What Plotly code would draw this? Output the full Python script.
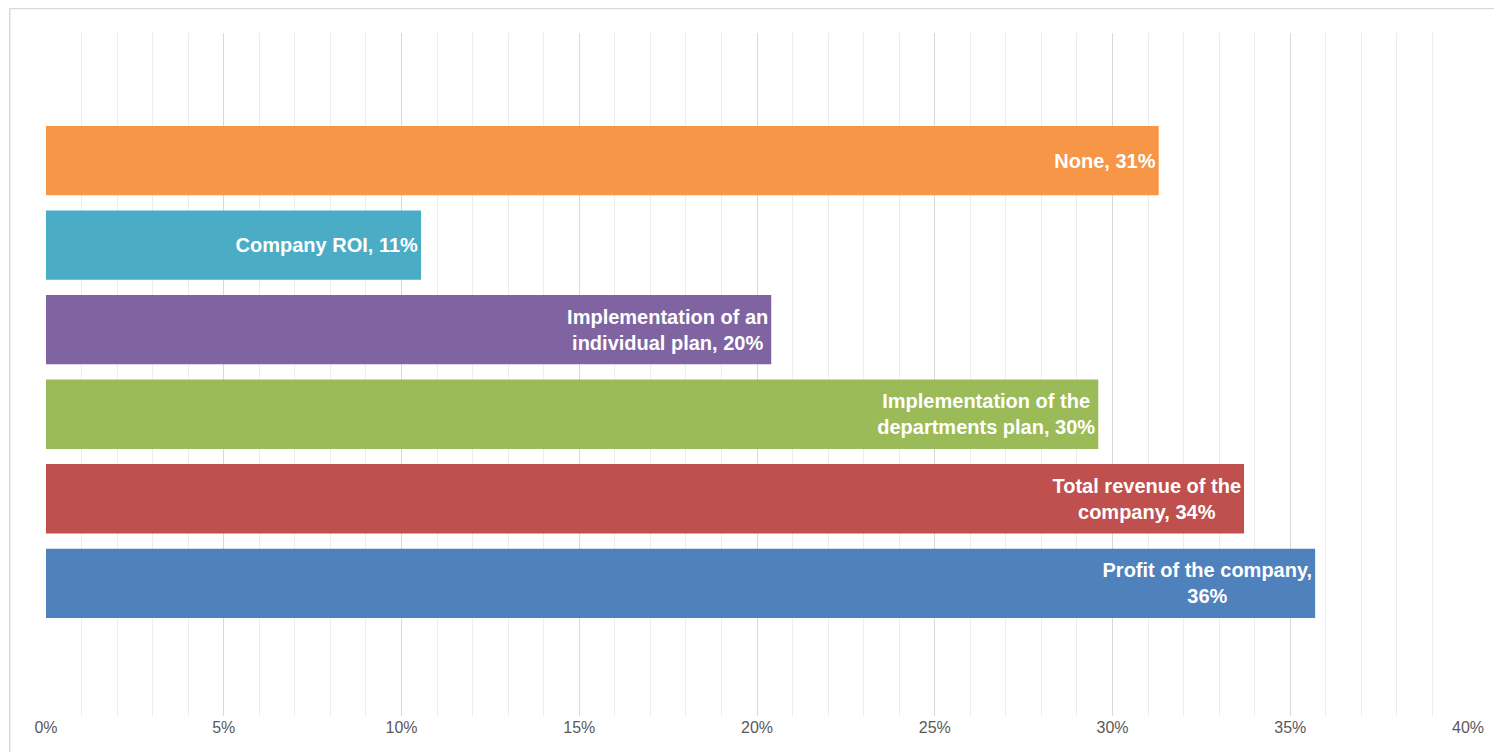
import plotly.graph_objects as go

categories = ["Profit of the company", "Total revenue of the company",
              "Implementation of the departments plan",
              "Implementation of an individual plan", "Company ROI", "None"]
values = [35.7, 33.7, 29.6, 20.4, 10.55, 31.3]
labels = ["Profit of the company,<br>36%", "Total revenue of the<br>company, 34%",
          "Implementation of the<br>departments plan, 30%",
          "Implementation of an<br>individual plan, 20%", "Company ROI, 11%", "None, 31%"]
colors = ["#4F81BD", "#C0504D", "#9BBB59", "#8064A2", "#4BACC6", "#F79646"]

fig = go.Figure(go.Bar(
    y=list(range(len(categories))), x=values, orientation="h",
    marker=dict(color=colors, line=dict(width=0)),
    text=labels, textposition="inside", insidetextanchor="end",
    textfont=dict(family="Arial", size=20, color="white", weight="bold"),
    width=0.82, hoverinfo="skip", cliponaxis=False,
))

fig.update_layout(
    width=1502, height=752,
    margin=dict(l=38, r=42, t=25, b=44),
    plot_bgcolor="white", paper_bgcolor="white",
    showlegend=False,
    font=dict(family="Arial", color="#595959"),
    xaxis=dict(range=[0, 40], dtick=5, ticksuffix="%", showgrid=True,
               gridcolor="#D9D9D9", gridwidth=1.3, zeroline=False,
               tickfont=dict(size=16, color="#595959"),
               minor=dict(dtick=1, showgrid=True, gridcolor="#EDEDED")),
    yaxis=dict(range=[-1.57, 6.51], showticklabels=False, showgrid=False,
               zeroline=False),
    shapes=[dict(type="rect", xref="paper", yref="paper", x0=-0.0255, x1=1.0285,
                 y0=-0.065, y1=1.036, line=dict(color="#D9D9D9", width=1.5))],
)

fig.write_html("out.html")
